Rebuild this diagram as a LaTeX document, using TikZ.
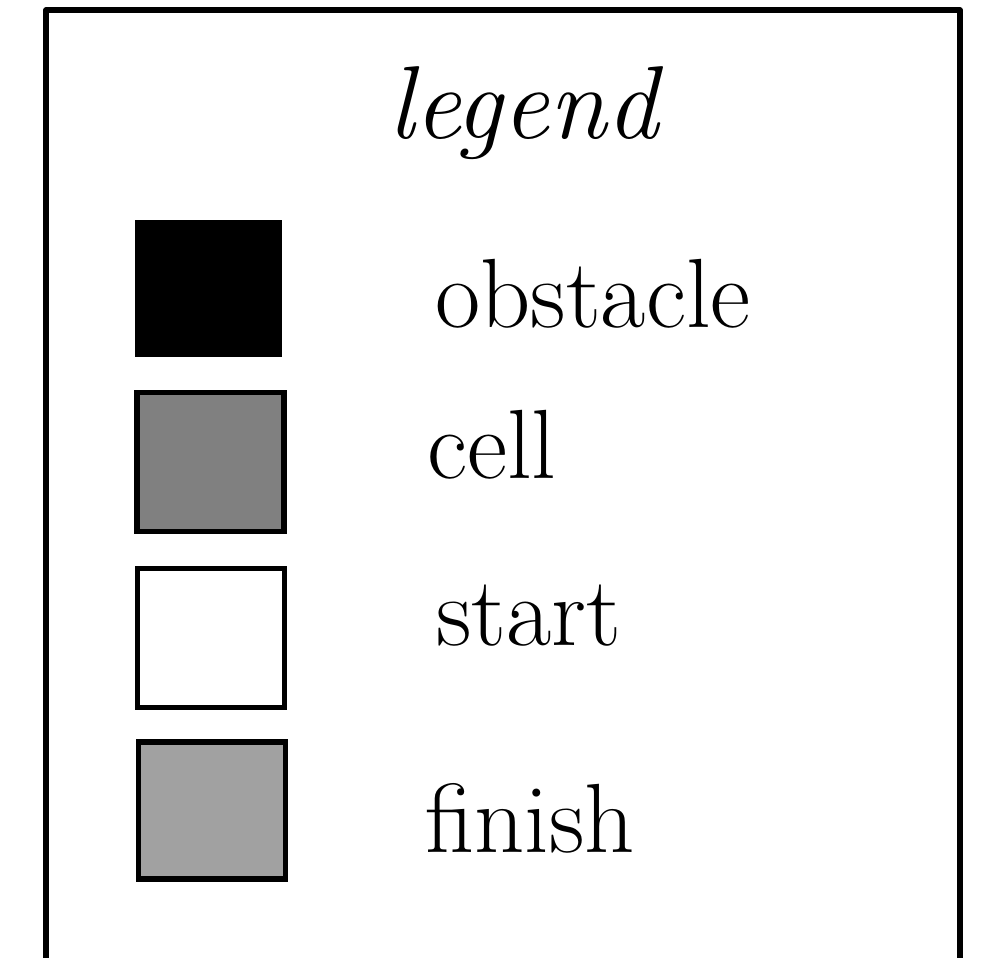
\documentclass[tikz,border=0pt]{standalone}
\usepackage{fontspec}
\usepackage{xcolor}

\definecolor{cellgray}{gray}{0.5}
\definecolor{finishgray}{gray}{0.63}

\begin{document}
\begin{tikzpicture}[
    x=0.02cm,
    y=-0.02cm,
    swatch/.style={
        rectangle,
        draw,
        inner sep=0pt,
        minimum width=2.94cm,
        minimum height=2.78cm,
        line width=0.11cm
    },
    itemtext/.style={
        anchor=base west,
        inner sep=0pt,
        font=\fontsize{56}{64}\selectfont
    },
    frame/.style={
        draw,
        line width=0.11cm,
        line join=round
    }
]

    \useasboundingbox (0,0) rectangle (984,957);
    \clip (0,0) rectangle (984,957);

    % Frame (open at the bottom)
    \path [frame] (46,990) -- (46,10) -- (960,10) -- (960,990);

    % Title
    \node [anchor=base, inner sep=0pt, font=\fontsize{59}{66}\selectfont\itshape] (title) at (523,138) {legend};

    % Swatches
    \node [rectangle, fill=black, inner sep=0pt, minimum width=2.94cm, minimum height=2.74cm] (obst) at (208.5,288.5) {};
    \node [swatch, fill=cellgray] (cell) at (210.5,462) {};
    \node [swatch, fill=white] (start) at (211,638) {};
    \node [swatch, fill=finishgray, minimum height=2.75cm] (finish) at (212,810.5) {};

    % Item texts
    \node [itemtext] (obsttext) at (435,327) {obstacle};
    \node [itemtext] (celltext) at (427,478) {cell};
    \node [itemtext] (starttext) at (436,645) {start};
    \node [itemtext] (finishtext) at (425,852) {finish};

\end{tikzpicture}
\end{document}
